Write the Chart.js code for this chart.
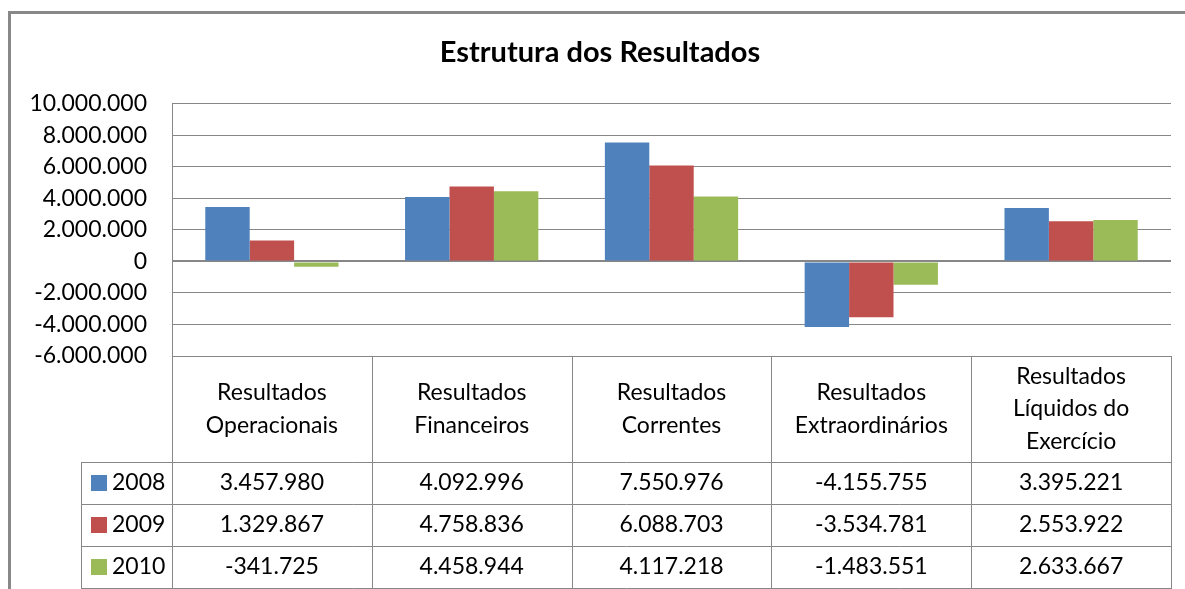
<!DOCTYPE html>
<html>
<head>
<meta charset="utf-8">
<script src="https://cdn.jsdelivr.net/npm/chart.js@4"></script>
<style>
    html, body { margin: 0; padding: 0; background: #fff; }
    canvas { display: block; }
</style>
</head>
<body>
<canvas id="resultsChart" width="1185" height="589"></canvas>
<script>
// Categories (split into header lines) and yearly values
const categories = [
    ['Resultados', 'Operacionais'],
    ['Resultados', 'Financeiros'],
    ['Resultados', 'Correntes'],
    ['Resultados', 'Extraordinários'],
    ['Resultados', 'Líquidos do', 'Exercício']
];
const years = ['2008', '2009', '2010'];
const values2008 = [3457980, 4092996, 7550976, -4155755, 3395221];
const values2009 = [1329867, 4758836, 6088703, -3534781, 2553922];
const values2010 = [-341725, 4458944, 4117218, -1483551, 2633667];
const yMin = -6000000, yMax = 10000000, yStep = 2000000;

const colors = ['#4F81BD', '#C0504D', '#9BBB59'];
const lineGray = '#878787';
const FONT = 'Lato, "Liberation Sans", sans-serif';

// 1234567 -> "1.234.567"
function fmt(v) {
    const s = Math.abs(Math.round(v)).toString().replace(/\B(?=(\d{3})+(?!\d))/g, '.');
    return (v < 0 ? '-' : '') + s;
}

// Outer frame of the chart
const framePlugin = {
    id: 'frame',
    afterDraw(chart) {
        const c = chart.ctx;
        c.save();
        c.strokeStyle = '#888';
        c.lineWidth = 3;
        c.beginPath();
        c.moveTo(9.5, chart.height);
        c.lineTo(9.5, 12.5);
        c.lineTo(chart.width, 12.5);
        c.stroke();
        c.restore();
    }
};

// Data table under the plot (category header + one row per year)
const dataTablePlugin = {
    id: 'dataTable',
    afterDraw(chart) {
        const c = chart.ctx;
        const x = chart.scales.x;
        const area = chart.chartArea;
        const series = [values2008, values2009, values2010];
        const headerTop = area.bottom;
        const headerBottom = headerTop + 106;
        const rowH = 42;
        const legendLeft = 81;
        const half = (area.right - area.left) / categories.length / 2;

        c.save();
        c.strokeStyle = lineGray;
        c.lineWidth = 1;
        c.beginPath();
        // vertical column lines
        for (let i = 0; i <= categories.length; i++) {
            const px = Math.round(i < categories.length ? x.getPixelForValue(i) - half : area.right) + 0.5;
            c.moveTo(px, headerTop);
            c.lineTo(px, headerBottom + rowH * years.length);
        }
        c.moveTo(legendLeft + 0.5, headerBottom);
        c.lineTo(legendLeft + 0.5, headerBottom + rowH * years.length);
        // horizontal row lines
        for (let r = 0; r <= years.length; r++) {
            const py = Math.round(headerBottom + r * rowH) + 0.5;
            c.moveTo(legendLeft, py);
            c.lineTo(area.right + 1, py);
        }
        c.stroke();

        c.fillStyle = '#000';
        c.font = '23px ' + FONT;
        c.textAlign = 'center';
        c.textBaseline = 'middle';
        const lh = 32.5;
        categories.forEach((lines, i) => {
            const cx = x.getPixelForValue(i);
            const cy = (headerTop + headerBottom) / 2;
            lines.forEach((t, k) => {
                c.fillText(t, cx, cy + (k - (lines.length - 1) / 2) * lh);
            });
        });

        years.forEach((yr, r) => {
            const cy = headerBottom + r * rowH + rowH / 2;
            c.fillStyle = colors[r];
            c.fillRect(legendLeft + 10, cy - 8, 16, 16);
            c.fillStyle = '#000';
            c.textAlign = 'left';
            c.fillText(yr, legendLeft + 31, cy);
            c.textAlign = 'center';
            series[r].forEach((v, i) => {
                c.fillText(fmt(v), x.getPixelForValue(i), cy);
            });
        });
        c.restore();
    }
};

new Chart(document.getElementById('resultsChart'), {
    type: 'bar',
    data: {
        labels: categories,
        datasets: [values2008, values2009, values2010].map((d, i) => ({
            label: years[i],
            data: d,
            backgroundColor: colors[i],
            borderWidth: 0,
            categoryPercentage: 0.667,
            barPercentage: 1
        }))
    },
    options: {
        responsive: false,
        animation: false,
        layout: { padding: { left: 29, right: 14, top: 0, bottom: 233 } },
        plugins: {
            legend: { display: false },
            tooltip: { enabled: false },
            title: {
                display: true,
                text: 'Estrutura dos Resultados',
                color: '#000',
                font: { family: FONT, size: 29, weight: 'bold' },
                padding: { top: 35, bottom: 34 }
            }
        },
        scales: {
            x: { display: false },
            y: {
                min: yMin,
                max: yMax,
                ticks: {
                    stepSize: yStep,
                    autoSkip: false,
                    color: '#000',
                    padding: 25,
                    font: { family: FONT, size: 23 },
                    callback: v => fmt(v)
                },
                grid: {
                    color: lineGray,
                    drawTicks: false,
                    lineWidth: ctx => (ctx.tick && ctx.tick.value === 0 ? 2 : 1)
                },
                border: { display: true, color: lineGray, width: 1 },
                afterFit(scale) { scale.width = 143; }
            }
        }
    },
    plugins: [framePlugin, dataTablePlugin]
});
</script>
</body>
</html>
